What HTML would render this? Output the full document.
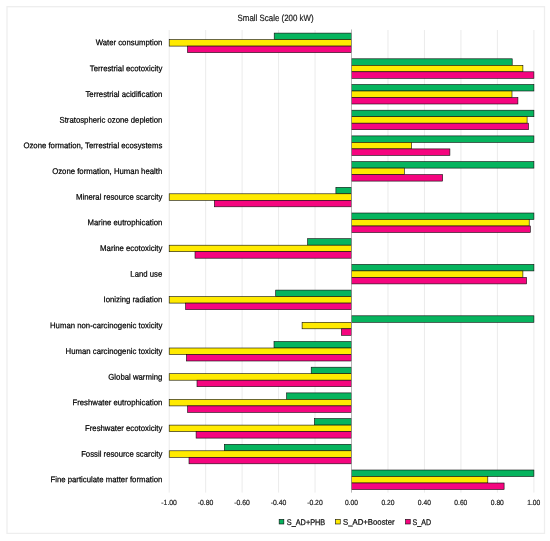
<!DOCTYPE html>
<html lang="en">
<head>
<meta charset="utf-8">
<title>Small Scale (200 kW)</title>
<style>
html,body{margin:0;padding:0;background:#fff;}
body{width:550px;height:541px;overflow:hidden;}
svg{display:block;}
text{font-family:"Liberation Sans",sans-serif;fill:#000;stroke:#000;stroke-width:0.22;}
.lab{font-size:8.30px;text-anchor:end;}
.ax{font-size:7.4px;fill:#222;stroke:#222;stroke-width:0.2;}
.leg{font-size:8.2px;fill:#111;stroke:#111;stroke-width:0.25;}
.ttl{font-size:9.1px;fill:#1a1a1a;stroke:#1a1a1a;stroke-width:0.2;}
.bar{stroke:#0a0a0a;stroke-width:0.6;}
.grid{stroke:#eaeaea;stroke-width:0.95;}
</style>
</head>
<body>
<svg width="550" height="541" viewBox="0 0 550 541">
<rect x="0" y="0" width="550" height="541" fill="#ffffff"/>
<rect x="7.0" y="6.7" width="537.5" height="526.7" fill="#ffffff" stroke="#eeeeee" stroke-width="1.3"/>
<line class="grid" x1="169.20" y1="30.00" x2="169.20" y2="492.60"/>
<line class="grid" x1="205.66" y1="30.00" x2="205.66" y2="492.60"/>
<line class="grid" x1="242.12" y1="30.00" x2="242.12" y2="492.60"/>
<line class="grid" x1="278.58" y1="30.00" x2="278.58" y2="492.60"/>
<line class="grid" x1="315.04" y1="30.00" x2="315.04" y2="492.60"/>
<line class="grid" x1="351.50" y1="30.00" x2="351.50" y2="492.60"/>
<line class="grid" x1="387.98" y1="30.00" x2="387.98" y2="492.60"/>
<line class="grid" x1="424.46" y1="30.00" x2="424.46" y2="492.60"/>
<line class="grid" x1="460.94" y1="30.00" x2="460.94" y2="492.60"/>
<line class="grid" x1="497.42" y1="30.00" x2="497.42" y2="492.60"/>
<line class="grid" x1="533.90" y1="30.00" x2="533.90" y2="492.60"/>
<text class="ttl" x="237.6" y="20.75" transform="rotate(0.03 237.6 20.75)" textLength="76" lengthAdjust="spacingAndGlyphs">Small Scale (200 kW)</text>
<rect class="bar" x="274.20" y="33.10" width="77.30" height="6.50" fill="#06b45e"/>
<rect class="bar" x="169.20" y="39.60" width="182.30" height="6.50" fill="#ffea00"/>
<rect class="bar" x="187.50" y="46.10" width="164.00" height="6.50" fill="#f5057f"/>
<text class="lab" x="162.3" y="45.25" transform="rotate(0.03 162.3 45.25)" textLength="66.65" lengthAdjust="spacingAndGlyphs">Water consumption</text>
<rect class="bar" x="351.50" y="58.80" width="160.70" height="6.50" fill="#06b45e"/>
<rect class="bar" x="351.50" y="65.30" width="171.40" height="6.50" fill="#ffea00"/>
<rect class="bar" x="351.50" y="71.80" width="182.40" height="6.50" fill="#f5057f"/>
<text class="lab" x="162.3" y="71.25" transform="rotate(0.03 162.3 71.25)" textLength="72.54" lengthAdjust="spacingAndGlyphs">Terrestrial ecotoxicity</text>
<rect class="bar" x="351.50" y="84.50" width="182.40" height="6.50" fill="#06b45e"/>
<rect class="bar" x="351.50" y="91.00" width="160.50" height="6.50" fill="#ffea00"/>
<rect class="bar" x="351.50" y="97.50" width="166.40" height="6.50" fill="#f5057f"/>
<text class="lab" x="162.3" y="97.00" transform="rotate(0.03 162.3 97.00)" textLength="76.87" lengthAdjust="spacingAndGlyphs">Terrestrial acidification</text>
<rect class="bar" x="351.50" y="110.20" width="182.40" height="6.50" fill="#06b45e"/>
<rect class="bar" x="351.50" y="116.70" width="175.60" height="6.50" fill="#ffea00"/>
<rect class="bar" x="351.50" y="123.20" width="177.00" height="6.50" fill="#f5057f"/>
<text class="lab" x="162.3" y="122.75" transform="rotate(0.03 162.3 122.75)" textLength="102.81" lengthAdjust="spacingAndGlyphs">Stratospheric ozone depletion</text>
<rect class="bar" x="351.50" y="135.90" width="182.40" height="6.50" fill="#06b45e"/>
<rect class="bar" x="351.50" y="142.40" width="60.10" height="6.50" fill="#ffea00"/>
<rect class="bar" x="351.50" y="148.90" width="98.40" height="6.50" fill="#f5057f"/>
<text class="lab" x="162.3" y="148.25" transform="rotate(0.03 162.3 148.25)" textLength="138.90" lengthAdjust="spacingAndGlyphs">Ozone formation, Terrestrial ecosystems</text>
<rect class="bar" x="351.50" y="161.60" width="182.40" height="6.50" fill="#06b45e"/>
<rect class="bar" x="351.50" y="168.10" width="52.80" height="6.50" fill="#ffea00"/>
<rect class="bar" x="351.50" y="174.60" width="91.10" height="6.50" fill="#f5057f"/>
<text class="lab" x="162.3" y="174.00" transform="rotate(0.03 162.3 174.00)" textLength="110.14" lengthAdjust="spacingAndGlyphs">Ozone formation, Human health</text>
<rect class="bar" x="335.90" y="187.30" width="15.60" height="6.50" fill="#06b45e"/>
<rect class="bar" x="169.20" y="193.80" width="182.30" height="6.50" fill="#ffea00"/>
<rect class="bar" x="214.40" y="200.30" width="137.10" height="6.50" fill="#f5057f"/>
<text class="lab" x="162.3" y="199.75" transform="rotate(0.03 162.3 199.75)" textLength="86.36" lengthAdjust="spacingAndGlyphs">Mineral resource scarcity</text>
<rect class="bar" x="351.50" y="213.00" width="182.40" height="6.50" fill="#06b45e"/>
<rect class="bar" x="351.50" y="219.50" width="177.70" height="6.50" fill="#ffea00"/>
<rect class="bar" x="351.50" y="226.00" width="178.80" height="6.50" fill="#f5057f"/>
<text class="lab" x="162.3" y="225.25" transform="rotate(0.03 162.3 225.25)" textLength="74.72" lengthAdjust="spacingAndGlyphs">Marine eutrophication</text>
<rect class="bar" x="307.60" y="238.70" width="43.90" height="6.50" fill="#06b45e"/>
<rect class="bar" x="169.20" y="245.20" width="182.30" height="6.50" fill="#ffea00"/>
<rect class="bar" x="195.00" y="251.70" width="156.50" height="6.50" fill="#f5057f"/>
<text class="lab" x="162.3" y="251.00" transform="rotate(0.03 162.3 251.00)" textLength="62.18" lengthAdjust="spacingAndGlyphs">Marine ecotoxicity</text>
<rect class="bar" x="351.50" y="264.40" width="182.40" height="6.50" fill="#06b45e"/>
<rect class="bar" x="351.50" y="270.90" width="171.40" height="6.50" fill="#ffea00"/>
<rect class="bar" x="351.50" y="277.40" width="175.10" height="6.50" fill="#f5057f"/>
<text class="lab" x="162.3" y="276.75" transform="rotate(0.03 162.3 276.75)" textLength="31.97" lengthAdjust="spacingAndGlyphs">Land use</text>
<rect class="bar" x="275.70" y="290.10" width="75.80" height="6.50" fill="#06b45e"/>
<rect class="bar" x="169.20" y="296.60" width="182.30" height="6.50" fill="#ffea00"/>
<rect class="bar" x="185.60" y="303.10" width="165.90" height="6.50" fill="#f5057f"/>
<text class="lab" x="162.3" y="302.25" transform="rotate(0.03 162.3 302.25)" textLength="58.75" lengthAdjust="spacingAndGlyphs">Ionizing radiation</text>
<rect class="bar" x="351.50" y="315.80" width="182.40" height="6.50" fill="#06b45e"/>
<rect class="bar" x="302.10" y="322.30" width="49.40" height="6.50" fill="#ffea00"/>
<rect class="bar" x="341.40" y="328.80" width="10.10" height="6.50" fill="#f5057f"/>
<text class="lab" x="162.3" y="328.25" transform="rotate(0.03 162.3 328.25)" textLength="112.29" lengthAdjust="spacingAndGlyphs">Human non-carcinogenic toxicity</text>
<rect class="bar" x="274.00" y="341.50" width="77.50" height="6.50" fill="#06b45e"/>
<rect class="bar" x="169.20" y="348.00" width="182.30" height="6.50" fill="#ffea00"/>
<rect class="bar" x="186.40" y="354.50" width="165.10" height="6.50" fill="#f5057f"/>
<text class="lab" x="162.3" y="354.00" transform="rotate(0.03 162.3 354.00)" textLength="96.74" lengthAdjust="spacingAndGlyphs">Human carcinogenic toxicity</text>
<rect class="bar" x="311.20" y="367.20" width="40.30" height="6.50" fill="#06b45e"/>
<rect class="bar" x="169.20" y="373.70" width="182.30" height="6.50" fill="#ffea00"/>
<rect class="bar" x="197.00" y="380.20" width="154.50" height="6.50" fill="#f5057f"/>
<text class="lab" x="162.3" y="379.75" transform="rotate(0.03 162.3 379.75)" textLength="53.98" lengthAdjust="spacingAndGlyphs">Global warming</text>
<rect class="bar" x="286.60" y="392.90" width="64.90" height="6.50" fill="#06b45e"/>
<rect class="bar" x="169.20" y="399.40" width="182.30" height="6.50" fill="#ffea00"/>
<rect class="bar" x="187.60" y="405.90" width="163.90" height="6.50" fill="#f5057f"/>
<text class="lab" x="162.3" y="405.25" transform="rotate(0.03 162.3 405.25)" textLength="89.83" lengthAdjust="spacingAndGlyphs">Freshwater eutrophication</text>
<rect class="bar" x="314.40" y="418.60" width="37.10" height="6.50" fill="#06b45e"/>
<rect class="bar" x="169.20" y="425.10" width="182.30" height="6.50" fill="#ffea00"/>
<rect class="bar" x="196.10" y="431.60" width="155.40" height="6.50" fill="#f5057f"/>
<text class="lab" x="162.3" y="431.00" transform="rotate(0.03 162.3 431.00)" textLength="77.30" lengthAdjust="spacingAndGlyphs">Freshwater ecotoxicity</text>
<rect class="bar" x="224.30" y="444.30" width="127.20" height="6.50" fill="#06b45e"/>
<rect class="bar" x="169.20" y="450.80" width="182.30" height="6.50" fill="#ffea00"/>
<rect class="bar" x="189.00" y="457.30" width="162.50" height="6.50" fill="#f5057f"/>
<text class="lab" x="162.3" y="456.75" transform="rotate(0.03 162.3 456.75)" textLength="81.17" lengthAdjust="spacingAndGlyphs">Fossil resource scarcity</text>
<rect class="bar" x="351.50" y="470.00" width="182.40" height="6.50" fill="#06b45e"/>
<rect class="bar" x="351.50" y="476.50" width="136.30" height="6.50" fill="#ffea00"/>
<rect class="bar" x="351.50" y="483.00" width="152.60" height="6.50" fill="#f5057f"/>
<text class="lab" x="162.3" y="482.25" transform="rotate(0.03 162.3 482.25)" textLength="111.85" lengthAdjust="spacingAndGlyphs">Fine particulate matter formation</text>
<line x1="351.50" y1="29.40" x2="351.50" y2="492.60" stroke="#a0a0a0" stroke-width="0.7"/>
<text class="ax" x="161.30" y="505" transform="rotate(0.03 161.30 505)" textLength="15.6" lengthAdjust="spacingAndGlyphs">-1.00</text>
<text class="ax" x="197.76" y="505" transform="rotate(0.03 197.76 505)" textLength="15.6" lengthAdjust="spacingAndGlyphs">-0.80</text>
<text class="ax" x="234.22" y="505" transform="rotate(0.03 234.22 505)" textLength="15.6" lengthAdjust="spacingAndGlyphs">-0.60</text>
<text class="ax" x="270.68" y="505" transform="rotate(0.03 270.68 505)" textLength="15.6" lengthAdjust="spacingAndGlyphs">-0.40</text>
<text class="ax" x="307.14" y="505" transform="rotate(0.03 307.14 505)" textLength="15.6" lengthAdjust="spacingAndGlyphs">-0.20</text>
<text class="ax" x="344.90" y="505" transform="rotate(0.03 344.90 505)" textLength="13.0" lengthAdjust="spacingAndGlyphs">0.00</text>
<text class="ax" x="381.38" y="505" transform="rotate(0.03 381.38 505)" textLength="13.0" lengthAdjust="spacingAndGlyphs">0.20</text>
<text class="ax" x="417.86" y="505" transform="rotate(0.03 417.86 505)" textLength="13.0" lengthAdjust="spacingAndGlyphs">0.40</text>
<text class="ax" x="454.34" y="505" transform="rotate(0.03 454.34 505)" textLength="13.0" lengthAdjust="spacingAndGlyphs">0.60</text>
<text class="ax" x="490.82" y="505" transform="rotate(0.03 490.82 505)" textLength="13.0" lengthAdjust="spacingAndGlyphs">0.80</text>
<text class="ax" x="527.30" y="505" transform="rotate(0.03 527.30 505)" textLength="13.0" lengthAdjust="spacingAndGlyphs">1.00</text>
<rect class="bar" x="279.15" y="519.3" width="4.7" height="4.7" fill="#06b45e"/>
<text class="leg" x="286.80" y="524.75" transform="rotate(0.03 286.80 524.75)" textLength="38.4" lengthAdjust="spacingAndGlyphs">S_AD+PHB</text>
<rect class="bar" x="335.55" y="519.3" width="4.7" height="4.7" fill="#ffea00"/>
<text class="leg" x="343.00" y="524.75" transform="rotate(0.03 343.00 524.75)" textLength="51.6" lengthAdjust="spacingAndGlyphs">S_AD+Booster</text>
<rect class="bar" x="405.55" y="519.3" width="4.7" height="4.7" fill="#f5057f"/>
<text class="leg" x="412.50" y="524.75" transform="rotate(0.03 412.50 524.75)" textLength="18.5" lengthAdjust="spacingAndGlyphs">S_AD</text>
</svg>
</body>
</html>
